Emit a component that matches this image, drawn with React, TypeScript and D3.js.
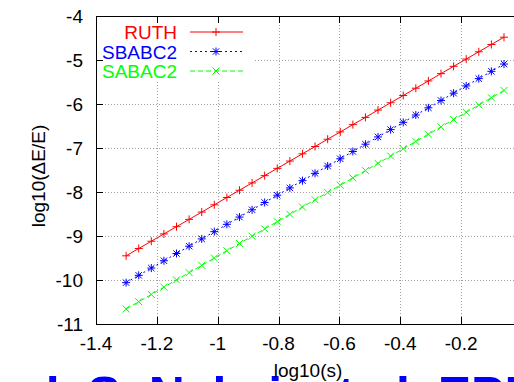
import React from 'react';
import * as d3 from 'd3';

// log10(s) sample points
const logS = [
  -1.301, -1.2596, -1.2182, -1.1768, -1.1354, -1.094, -1.0526, -1.0112, -0.9699, -0.9285,
  -0.8871, -0.8457, -0.8043, -0.7629, -0.7215, -0.6801, -0.6387, -0.5973, -0.5559, -0.5145,
  -0.4732, -0.4318, -0.3904, -0.349, -0.3076, -0.2662, -0.2248, -0.1834, -0.142, -0.1006, -0.0592,
];
const ruth = [
  -9.45, -9.284, -9.119, -8.953, -8.788, -8.622, -8.456, -8.291, -8.125, -7.96,
  -7.794, -7.628, -7.463, -7.297, -7.132, -6.966, -6.8, -6.635, -6.469, -6.304,
  -6.138, -5.972, -5.807, -5.641, -5.476, -5.31, -5.144, -4.979, -4.813, -4.648, -4.482,
];
const sbabc2 = [
  -10.06, -9.894, -9.729, -9.563, -9.398, -9.232, -9.066, -8.901, -8.735, -8.57,
  -8.404, -8.238, -8.073, -7.907, -7.742, -7.576, -7.41, -7.245, -7.079, -6.914,
  -6.748, -6.582, -6.417, -6.251, -6.086, -5.92, -5.754, -5.589, -5.423, -5.258, -5.092,
];
const sabac2 = [
  -10.66, -10.494, -10.329, -10.163, -9.998, -9.832, -9.666, -9.501, -9.335, -9.17,
  -9.004, -8.838, -8.673, -8.507, -8.342, -8.176, -8.01, -7.845, -7.679, -7.514,
  -7.348, -7.182, -7.017, -6.851, -6.686, -6.52, -6.354, -6.189, -6.023, -5.858, -5.692,
];
const seriesNames = ['RUTH', 'SBABC2', 'SABAC2'];
const xTicks = [-1.4, -1.2, -1, -0.8, -0.6, -0.4, -0.2];
const yTicks = [-11, -10, -9, -8, -7, -6, -5, -4];
const xTitle = 'log10(s)';
const yTitle = 'log10(ΔE/E)';
const footer = 'ck S. Nakai, et al. EPL';

const W = 514;
const H = 382;
const L = 96, R = 522, T = 16, B = 324;
const FONT = 'Liberation Sans, Arial, sans-serif';

const styles = [
  { color: '#ff0000', dash: undefined as string | undefined, marker: 'M-4,0H4M0,-4V4' },
  { color: '#0000ff', dash: '2,3', marker: 'M-4,0H4M0,-4V4M-3.2,-3.2L3.2,3.2M-3.2,3.2L3.2,-3.2' },
  { color: '#00ff00', dash: '5,3', marker: 'M-3.5,-3.5L3.5,3.5M-3.5,3.5L3.5,-3.5' },
];

export default function App() {
  const x = d3.scaleLinear().domain([-1.4, 0]).range([L, R]);
  const y = d3.scaleLinear().domain([-11, -4]).range([B, T]);
  const series = [ruth, sbabc2, sabac2];
  const line = d3.line<[number, number]>().x((d) => x(d[0])).y((d) => y(d[1]));

  const legendRow = (i: number) => 32 + i * 19.5;

  return (
    <svg
      width={W}
      height={H}
      style={{ position: 'fixed', left: 0, top: 0, background: '#fff' }}
      fontFamily={FONT}
    >
      <rect x={0} y={0} width={W} height={H} fill="#fff" />
      {/* grid */}
      <g stroke="#a0a0a0" strokeWidth={1} strokeDasharray="1,2" shapeRendering="crispEdges">
        {xTicks.filter((t) => t > -1.4).map((t) => (
          <line key={'gx' + t} x1={Math.round(x(t)) + 0.5} x2={Math.round(x(t)) + 0.5} y1={T} y2={B} />
        ))}
        {yTicks.filter((t) => t > -11 && t < -4).map((t) => (
          <line key={'gy' + t} x1={L} x2={R} y1={Math.round(y(t)) + 0.5} y2={Math.round(y(t)) + 0.5} />
        ))}
      </g>
      {/* legend background */}
      <rect x={L + 1} y={T + 1} width={156} height={63} fill="#fff" />
      {/* frame */}
      <rect x={L + 0.5} y={T + 0.5} width={R - L} height={B - T} fill="none" stroke="#000" strokeWidth={1} shapeRendering="crispEdges" />
      {/* ticks */}
      <g stroke="#000" strokeWidth={1} shapeRendering="crispEdges">
        {xTicks.map((t) => (
          <g key={'tx' + t}>
            <line x1={Math.round(x(t)) + 0.5} x2={Math.round(x(t)) + 0.5} y1={B} y2={B - 7} />
            <line x1={Math.round(x(t)) + 0.5} x2={Math.round(x(t)) + 0.5} y1={T} y2={T + 7} />
          </g>
        ))}
        {yTicks.map((t) => (
          <line key={'ty' + t} x1={L} x2={L + 7} y1={Math.round(y(t)) + 0.5} y2={Math.round(y(t)) + 0.5} />
        ))}
      </g>
      {/* tick labels */}
      <g fontSize={19} fill="#000">
        {xTicks.map((t) => (
          <text key={'lx' + t} x={x(t)} y={350} textAnchor="middle">{String(t)}</text>
        ))}
        {yTicks.map((t) => (
          <text key={'ly' + t} x={83} y={y(t) + 7} textAnchor="end">{String(t)}</text>
        ))}
      </g>
      {/* data */}
      {series.map((vals, i) => {
        const pts: [number, number][] = logS.map((s, j) => [s, vals[j]]);
        const st = styles[i];
        return (
          <g key={'s' + i} stroke={st.color} fill="none" strokeWidth={1}>
            <path d={line(pts) || ''} strokeDasharray={st.dash} />
            {pts.map((p, j) => (
              <path key={j} d={st.marker} transform={`translate(${x(p[0])},${y(p[1])})`} />
            ))}
          </g>
        );
      })}
      {/* legend */}
      {seriesNames.map((name, i) => {
        const st = styles[i];
        const ly = legendRow(i);
        return (
          <g key={'lg' + i}>
            <text x={177} y={ly + 7} textAnchor="end" fontSize={19} fill={st.color}>{name}</text>
            <line x1={190} x2={243} y1={ly} y2={ly} stroke={st.color} strokeWidth={1} strokeDasharray={st.dash} />
            <path d={st.marker} transform={`translate(216,${ly})`} stroke={st.color} fill="none" />
          </g>
        );
      })}
      {/* footer slide text (cut off) */}
      <text x={18} y={412} fontSize={50} fontWeight="bold" fill="#0000ff">{footer}</text>
      {/* axis titles */}
      <text x={(L + R) / 2 - 1} y={377} textAnchor="middle" fontSize={19} fill="#000">{xTitle}</text>
      <text
        transform={`translate(45,${176}) rotate(-90)`}
        textAnchor="middle"
        fontSize={19}
        fill="#000"
      >
        {yTitle}
      </text>
    </svg>
  );
}
